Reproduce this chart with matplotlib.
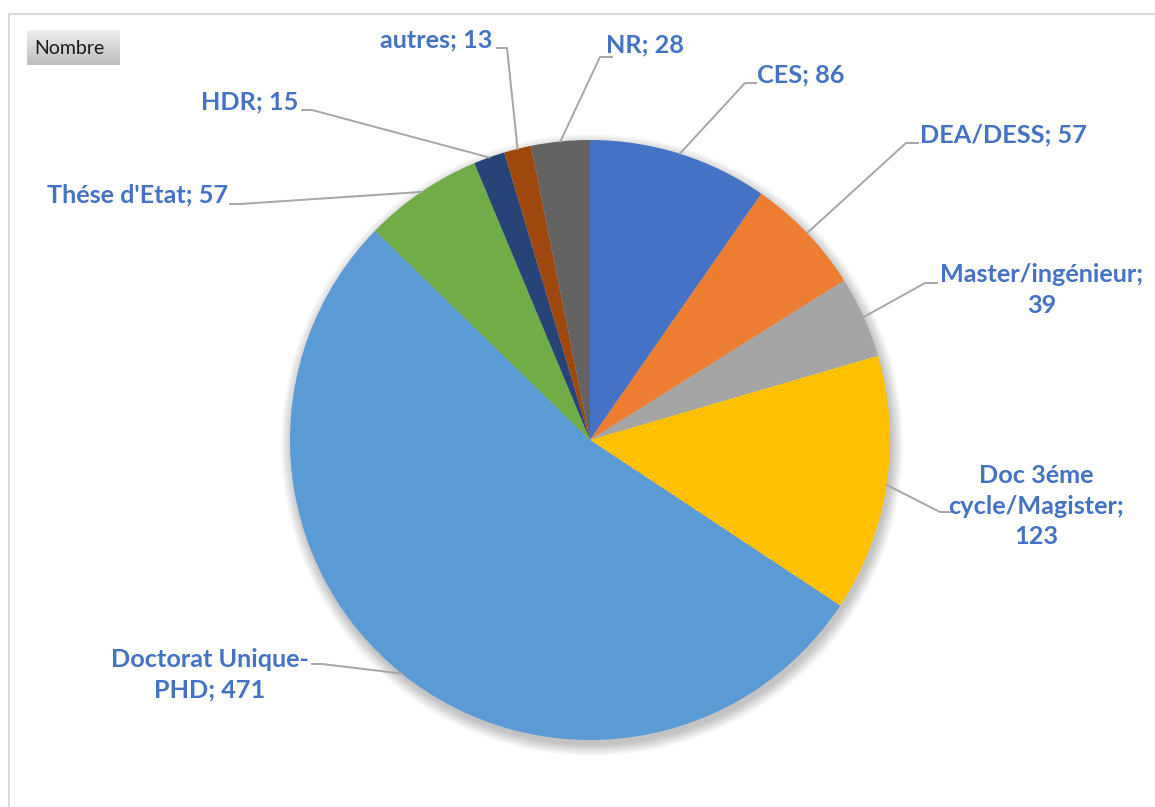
import matplotlib.pyplot as plt
import numpy as np
from matplotlib.patches import Circle

# Diplomes (Nombre)
categories = ['CES', 'DEA/DESS', 'Master/ingénieur', 'Doc 3éme\ncycle/Magister',
              'Doctorat Unique-\nPHD', "Thése d'Etat", 'HDR', 'autres', 'NR']
values = [86, 57, 39, 123, 471, 57, 15, 13, 28]

# how name and value are joined in each label
label_fmt = ['{}; {}', '{}; {}', '{};\n{}', '{};\n{}', '{}; {}',
             '{}; {}', '{}; {}', '{}; {}', '{}; {}']

colors = ['#4472C4', '#ED7D31', '#A5A5A5', '#FFC000', '#5B9BD5',
          '#70AD47', '#264478', '#9E480E', '#636363']

# label placement (pixels): text x, y, ha / elbow / end of leader
text_pos = [(757, 75, 'left'), (920, 135, 'left'), (1042, 290, 'center'),
            (1036, 506, 'center'), (210, 675, 'center'), (228, 195, 'right'),
            (298, 102, 'right'), (492, 40, 'right'), (606, 45, 'left')]
elbows = [(745, 83), (906, 143), (925, 283), (940, 512), (322, 664),
          (240, 204), (312, 110), (507, 48), (600, 57)]
ends = [(756, 83), (918, 143), (937, 283), (952, 512), (312, 664),
        (230, 204), (302, 110), (497, 48), (612, 57)]

cx, cy, r = 590, 440, 300

fig = plt.figure(figsize=(11.55, 8.07), dpi=100)
ax = fig.add_axes([0, 0, 1, 1])

# soft shadow under the pie
for i in range(12):
    ax.add_patch(Circle((cx + 2, cy + 5), r + i, color='black', alpha=0.018, lw=0, zorder=0))

wedges, _ = ax.pie(values, colors=colors, startangle=-90, counterclock=True,
                   center=(cx, cy), radius=r, wedgeprops=dict(linewidth=0))

label_color = '#4472C4'
for i, w in enumerate(wedges):
    ang = np.deg2rad((w.theta1 + w.theta2) / 2)
    px, py = cx + r * np.cos(ang), cy + r * np.sin(ang)
    ex, ey = elbows[i]
    tx, ty = ends[i]
    ax.plot([px, ex, tx], [py, ey, ty], color='#A6A6A6', lw=1.4, zorder=1)
    x, y, ha = text_pos[i]
    ax.text(x, y, label_fmt[i].format(categories[i], values[i]), ha=ha, va='center',
            multialignment='center', color=label_color, fontsize=18.2,
            fontweight='bold', family='Lato', linespacing=1.38)

# "Nombre" button
grad = np.linspace(0.93, 0.74, 50).reshape(-1, 1)
ax.imshow(grad, cmap='gray', vmin=0, vmax=1, extent=(27, 120, 65, 30), aspect='auto', zorder=2)
ax.text(34, 48, 'Nombre', ha='left', va='center', fontsize=14, family='Lato',
        color='#1a1a1a', zorder=3)

# chart frame
ax.plot([9, 1155], [14, 14], color='#D9D9D9', lw=1.5)
ax.plot([9, 9], [14, 807], color='#D9D9D9', lw=1.5)

ax.set_xlim(0, 1155)
ax.set_ylim(807, 0)
ax.set_aspect('equal')
ax.axis('off')

fig.savefig('out.png', dpi=100)
